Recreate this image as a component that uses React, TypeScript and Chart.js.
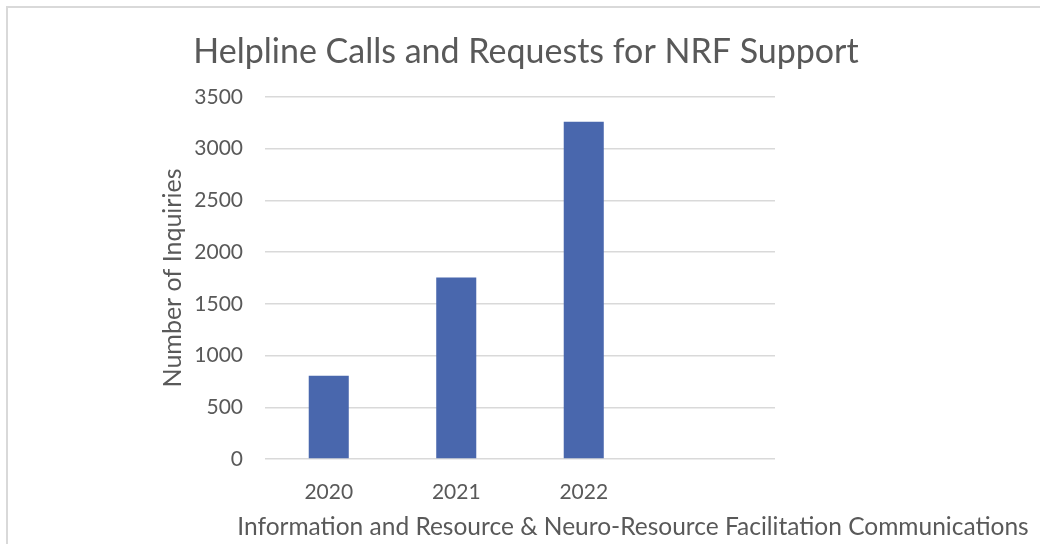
import React, { useEffect, useRef } from "react";
import { Chart, registerables } from "chart.js";

Chart.register(...registerables);

const chartTitle = "Helpline Calls and Requests for NRF Support";
const xAxisTitle = "Information and Resource & Neuro-Resource Facilitation Communications";
const yAxisTitle = "Number of Inquiries";
const categories = ["2020", "2021", "2022", ""];
const inquiries = [805, 1755, 3260, null];
const yTicksMax = 3500;
const yTickStep = 500;

const TEXT = "#595959";
const FONT = "Lato, 'Open Sans', sans-serif";

const decorPlugin = {
  id: "decor",
  beforeDraw(chart: any) {
    const ctx = chart.ctx;
    ctx.save();
    ctx.strokeStyle = "#d9d9d9";
    ctx.lineWidth = 2;
    ctx.strokeRect(7, 7, 1200, 700);
    ctx.restore();
  },
  afterDraw(chart: any) {
    const ctx = chart.ctx;
    ctx.save();
    ctx.fillStyle = TEXT;
    ctx.textAlign = "center";
    ctx.textBaseline = "middle";
    ctx.font = `34px ${FONT}`;
    ctx.fillText(chartTitle, 526, 52);
    ctx.font = `24.5px ${FONT}`;
    ctx.fillText(xAxisTitle, 633, 527);
    ctx.font = `25px ${FONT}`;
    ctx.translate(173, 278);
    ctx.rotate(-Math.PI / 2);
    ctx.fillText(yAxisTitle, 0, 0);
    ctx.restore();
  },
};

export default function App() {
  const ref = useRef<HTMLCanvasElement>(null);
  useEffect(() => {
    const chart = new Chart(ref.current!, {
      type: "bar",
      data: {
        labels: categories,
        datasets: [
          {
            data: inquiries,
            backgroundColor: "#4967AD",
            borderWidth: 0,
            barPercentage: 0.314,
            categoryPercentage: 1,
          },
        ],
      },
      options: {
        responsive: false,
        animation: false,
        layout: { padding: { top: 97, right: 265, left: 0, bottom: 0 } },
        plugins: { legend: { display: false }, tooltip: { enabled: false }, title: { display: false } },
        scales: {
          x: {
            grid: { display: false },
            border: { display: false },
            ticks: { color: TEXT, font: { family: FONT, size: 21 }, padding: 13 },
            afterFit: (s: any) => {
              s.height = 85;
            },
          },
          y: {
            min: 0,
            max: yTicksMax,
            grid: { color: "#d9d9d9", lineWidth: 1.5, drawTicks: false },
            border: { display: false },
            ticks: {
              stepSize: yTickStep,
              color: TEXT,
              font: { family: FONT, size: 21 },
              padding: 22,
              callback: (v: any) => String(v),
            },
            afterFit: (s: any) => {
              s.width = 265;
            },
          },
        },
      },
      plugins: [decorPlugin],
    });
    return () => chart.destroy();
  }, []);
  return (
    <div style={{ position: "fixed", left: 0, top: 0, width: 1040, height: 544, background: "#fff" }}>
      <canvas ref={ref} width={1040} height={544} />
    </div>
  );
}
